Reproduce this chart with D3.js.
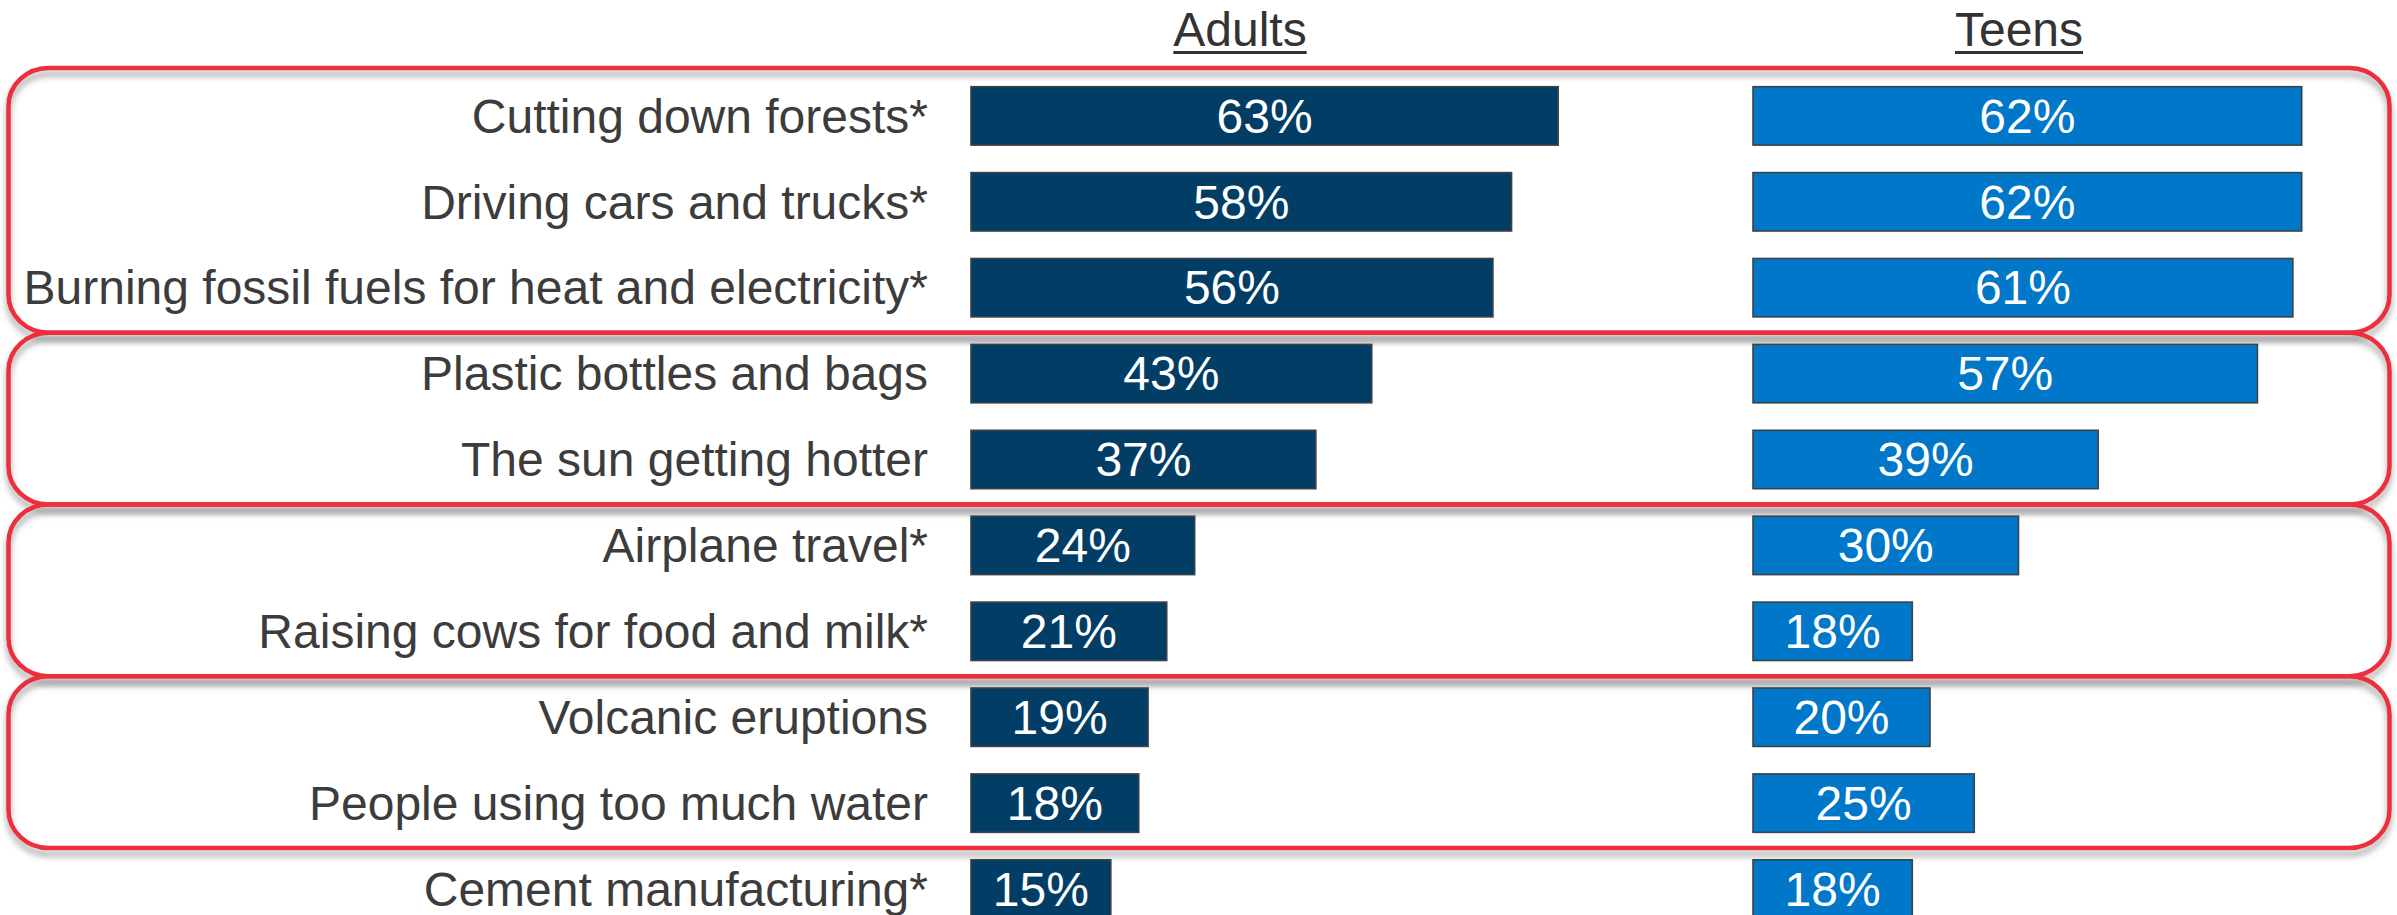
<!DOCTYPE html>
<html>
<head>
<meta charset="utf-8">
<script src="https://cdnjs.cloudflare.com/ajax/libs/d3/7.8.5/d3.min.js"></script>
<style>
  body { margin:0; background:#fff; }
  text { font-family: "Liberation Sans", Arial, sans-serif; }
</style>
</head>
<body>
<div id="chart"></div>
<script>
let categories = [
  "Cutting down forests*",
  "Driving cars and trucks*",
  "Burning fossil fuels for heat and electricity*",
  "Plastic bottles and bags",
  "The sun getting hotter",
  "Airplane travel*",
  "Raising cows for food and milk*",
  "Volcanic eruptions",
  "People using too much water",
  "Cement manufacturing*"
]
let adults = [63, 58, 56, 43, 37, 24, 21, 19, 18, 15]
let teens  = [62, 62, 61, 57, 39, 30, 18, 20, 25, 18]
let seriesNames = ["Adults", "Teens"]
// rows grouped by the red boxes (first, last index)
let groups = [[0, 2], [3, 4], [5, 6], [7, 8]]

function render(){
  let width = 2397, height = 915

  let svg = d3.select("#chart").append("svg")
    .attr("width", width).attr("height", height)

  let defs = svg.append("defs")
  let f = defs.append("filter").attr("id", "shadow")
    .attr("x", "-5%").attr("y", "-10%").attr("width", "110%").attr("height", "130%")
  f.append("feDropShadow").attr("dx", 0).attr("dy", 6).attr("stdDeviation", 3)
    .attr("flood-color", "#8a8a8a").attr("flood-opacity", 0.8)

  let y = d3.scaleBand().domain(categories).range([59.2, 945.7]).paddingInner(0.32).paddingOuter(0.32)
  let xA = d3.scaleLinear().domain([0, 100]).range([971, 1903])
  let xT = d3.scaleLinear().domain([0, 100]).range([1753, 2638])

  let rows = categories.map((c, i) => ({ cat: c, a: adults[i], t: teens[i] }))
  let gap = y.step() - y.bandwidth()

  let boxTop = (d, i) => y(categories[d[0]]) - gap / 2 + 2 - (i == 0 ? 7 : 0)
  let boxBottom = d => y(categories[d[1]]) + y.bandwidth() + gap / 2 + 2

  // red rounded boxes
  svg.append("g").selectAll("rect").data(groups).enter().append("rect")
    .attr("x", 8.5)
    .attr("y", boxTop)
    .attr("width", 2381)
    .attr("height", (d, i) => boxBottom(d) - boxTop(d, i))
    .attr("rx", 40).attr("ry", 38)
    .attr("fill", "none")
    .attr("stroke", "#ec2d3c")
    .attr("stroke-width", 4.5)
    .attr("filter", "url(#shadow)")

  // category labels
  svg.append("g").selectAll("text").data(rows).enter().append("text")
    .attr("x", xA(0) - 43)
    .attr("y", d => y(d.cat) + y.bandwidth() / 2)
    .attr("dy", "0.35em")
    .attr("text-anchor", "end")
    .attr("font-size", 48)
    .attr("fill", "#3c3c3c")
    .text(d => d.cat)

  let series = [
    { name: seriesNames[0], key: "a", x: xA, color: "#023d65", head: 1240 },
    { name: seriesNames[1], key: "t", x: xT, color: "#0077c8", head: 2019 }
  ]

  series.forEach(s => {
    let g = svg.append("g")
    g.selectAll("rect").data(rows).enter().append("rect")
      .attr("x", s.x(0))
      .attr("y", d => y(d.cat))
      .attr("width", d => s.x(d[s.key]) - s.x(0))
      .attr("height", y.bandwidth())
      .attr("fill", s.color)
      .attr("stroke", "#3d4247")
      .attr("stroke-width", 1.6)

    g.selectAll("text").data(rows).enter().append("text")
      .attr("x", d => (s.x(0) + s.x(d[s.key])) / 2)
      .attr("y", d => y(d.cat) + y.bandwidth() / 2)
      .attr("dy", "0.35em")
      .attr("text-anchor", "middle")
      .attr("font-size", 48)
      .attr("fill", "#fff")
      .text(d => d[s.key] + "%")

    // underlined header
    let h = svg.append("text")
      .attr("x", s.head).attr("y", 46)
      .attr("text-anchor", "middle")
      .attr("font-size", 48)
      .attr("fill", "#333")
      .text(s.name)
    let bb = h.node().getBBox()
    svg.append("line")
      .attr("x1", bb.x).attr("x2", bb.x + bb.width)
      .attr("y1", 52.5).attr("y2", 52.5)
      .attr("stroke", "#333").attr("stroke-width", 3)
  })
}
render()
</script>
</body>
</html>
